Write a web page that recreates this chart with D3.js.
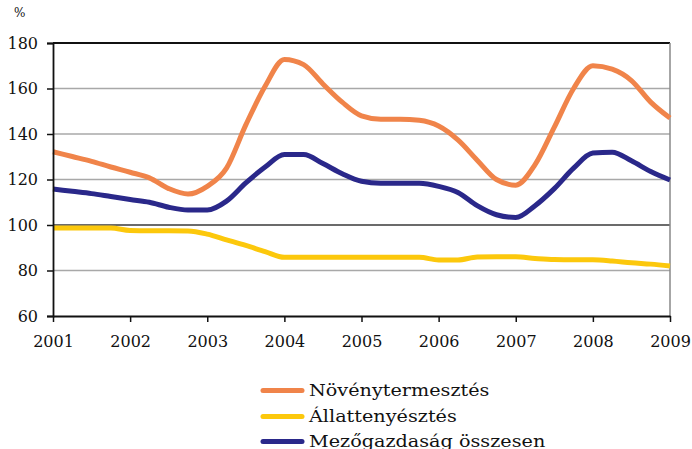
<!DOCTYPE html>
<html><head><meta charset="utf-8">
<script src="https://cdn.jsdelivr.net/npm/d3@7"></script>
<style>body{margin:0;background:#fff}svg{display:block}</style>
</head><body>
<svg id="c" width="692" height="449"></svg>
<script>
const years = [2001,2002,2003,2004,2005,2006,2007,2008,2009];
const yTicks = [60,80,100,120,140,160,180];
const t = [2001,2001.25,2001.5,2001.75,2002,2002.25,2002.5,2002.75,2003,2003.25,2003.5,2003.75,2004,2004.25,2004.5,2004.75,2005,2005.25,2005.5,2005.75,2006,2006.25,2006.5,2006.75,2007,2007.25,2007.5,2007.75,2008,2008.25,2008.5,2008.75,2009];
const noveny = [132.2,130.1,128,125.5,123.2,120.7,116,113.6,117,125,144,161,172.8,170.5,162,154,148,146.5,146.5,146,143.5,137.4,128.5,120,117.5,126.5,143,160,170,168.5,163.5,154,147];
const allat = [98.7,98.7,98.7,98.7,97.6,97.5,97.5,97.4,96,93.5,91,88.3,85.8,85.8,85.8,85.8,85.8,85.8,85.8,85.8,84.6,84.6,85.9,86,86,85.3,84.8,84.7,84.7,84.2,83.4,82.8,82];
const osszes = [115.8,114.8,113.8,112.5,111.2,110,107.8,106.6,106.6,110.5,118.5,125.5,131,131,127,122.5,119.2,118.3,118.3,118.3,117,114.3,108.5,104.5,103.3,108.5,116,125,131.6,132,128.2,123.5,119.8];
const seriesNames = ["Növénytermesztés","Állattenyésztés","Mezőgazdaság összesen"];
const colors = ["#f0844a","#fcc80c","#2a288a"];
const seriesVals = [noveny, allat, osszes];

const svg = d3.select("#c");
const font = "'DejaVu Serif', serif";
const x = d3.scaleLinear().domain([2001,2009]).range([53,670]);
const y = d3.scaleLinear().domain([60,180]).range([316,43]);

// grid
svg.append("g").selectAll("line").data(yTicks.filter(v=>v!==60 && v!==180)).join("line")
  .attr("x1",53).attr("x2",670).attr("y1",d=>y(d)).attr("y2",d=>y(d))
  .attr("stroke",d=>d===100?"#3a3a3a":"#a8a8a8").attr("stroke-width",1.6);
// top border and right border
svg.append("line").attr("x1",53).attr("x2",670).attr("y1",y(180)).attr("y2",y(180)).attr("stroke","#111").attr("stroke-width",2);
svg.append("line").attr("x1",670).attr("x2",670).attr("y1",y(180)).attr("y2",y(60)).attr("stroke","#888").attr("stroke-width",1.5);

// series
const line = d3.line().x((d,i)=>x(t[i])).y(d=>y(d)).curve(d3.curveMonotoneX);
seriesVals.forEach((vals,k)=>{
  svg.append("path").datum(vals).attr("d",line).attr("fill","none")
    .attr("stroke",colors[k]).attr("stroke-width",5).attr("stroke-linejoin","round");
});

// axes
const yAxis = d3.axisLeft(y).tickValues(yTicks).tickSize(6).tickPadding(9);
const gy = svg.append("g").attr("transform","translate(53,0)").call(yAxis);
gy.select(".domain").attr("stroke","#111").attr("stroke-width",1.8);
gy.selectAll(".tick line").attr("stroke","#111").attr("stroke-width",1.5);
gy.selectAll("text").attr("font-family",font).attr("font-size",16).attr("fill","#111");

const xAxis = d3.axisBottom(x).tickValues(years).tickFormat(d3.format("d")).tickSize(6).tickPadding(14).tickSizeOuter(0);
const gx = svg.append("g").attr("transform","translate(0,316)").call(xAxis);
gx.select(".domain").attr("stroke","#111").attr("stroke-width",1.8);
gx.selectAll(".tick line").attr("stroke","#111").attr("stroke-width",1.5);
gx.selectAll("text").attr("font-family",font).attr("font-size",16).attr("fill","#111");

svg.append("text").attr("x",14).attr("y",17).text("%").attr("font-family",font).attr("font-size",12).attr("fill","#111");

// legend
const lg = svg.append("g");
const rowY = [390.5, 416.5, 441.5];
seriesNames.forEach((n,k)=>{
  const yy = rowY[k];
  lg.append("line").attr("x1",263).attr("x2",302).attr("y1",yy).attr("y2",yy)
    .attr("stroke",colors[k]).attr("stroke-width",5).attr("stroke-linecap","round");
  lg.append("text").attr("transform",`translate(309,${yy+5}) scale(1.13,1)`).text(n)
    .attr("font-family",font).attr("font-size",17).attr("fill","#111");
});
</script>
</body></html>
